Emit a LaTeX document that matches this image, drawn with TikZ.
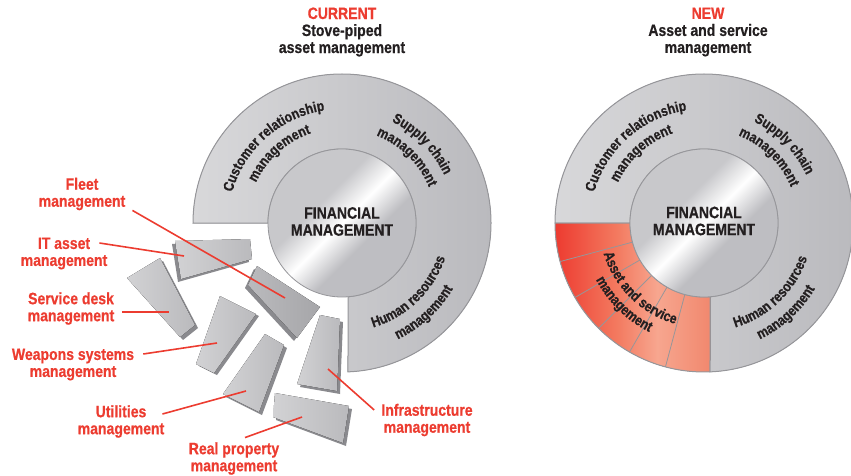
\documentclass[tikz,border=0pt]{standalone}
\usepackage{fontspec}
\setmainfont{Liberation Sans}[FakeStretch=0.85, BoldFeatures={FakeBold=0.6}]
\usetikzlibrary{calc,decorations.text}
\definecolor{leadred}{RGB}{236,60,48}
\definecolor{ink}{RGB}{35,31,32}
\definecolor{ringA}{RGB}{216,216,218}
\definecolor{ringB}{RGB}{232,232,234}
\definecolor{ringC}{RGB}{186,186,190}
\definecolor{rim}{RGB}{150,150,154}
\definecolor{metalA}{RGB}{200,200,203}
\definecolor{metalB}{RGB}{190,190,194}
\definecolor{pieceA}{RGB}{210,210,212}
\definecolor{pieceB}{RGB}{186,186,189}
\definecolor{pieceD}{RGB}{166,166,169}
\definecolor{pieceS}{RGB}{138,138,142}
\definecolor{redA}{RGB}{237,59,48}
\definecolor{redM}{RGB}{243,122,96}
\definecolor{redB}{RGB}{247,166,143}
\definecolor{redC}{RGB}{241,136,110}
\pgfdeclareverticalshading{metal}{100bp}{color(0bp)=(metalB); color(40bp)=(metalB); color(50bp)=(white); color(60bp)=(metalA); color(100bp)=(metalA)}
\pgfdeclarehorizontalshading{redfan}{100bp}{color(0bp)=(redA); color(25bp)=(redA); color(45bp)=(redM); color(58bp)=(redB); color(75bp)=(redC); color(100bp)=(redC)}
\def\ringfont{\fontsize{14.5}{15}\selectfont\bfseries}
\def\ringtext(#1)(#2:#3:#4)#5{\path[decorate,decoration={text along path,text align=center,text color=ink,text={|\ringfont|#5}}] ($(#1)+(#2:#4)$) arc (#2:#3:#4);}
\def\piece#1#2#3(#4)(#5)(#6)(#7){\fill[pieceS,xshift=#2,yshift=#3] (#4) -- (#5) -- (#6) -- (#7) -- cycle; \fill[#1] (#4) -- (#5) -- (#6) -- (#7) -- cycle;}

\begin{document}
\begin{tikzpicture}[x=1pt,y=1pt,
	lbl/.style={font={\fontsize{16.5}{17}\selectfont\bfseries}, text=leadred, align=center, inner sep=0pt},
	ttl/.style={font={\fontsize{16.5}{17}\selectfont\bfseries}, text=ink, align=center, inner sep=0pt},
	hubtext/.style={font={\fontsize{16.5}{17}\selectfont\bfseries}, text=ink, align=center, inner sep=0pt},
	leader/.style={draw=leadred, line width=1.6pt},
	ringshade/.style={left color=ringA, middle color=ringB, right color=ringC, draw=rim, line width=1pt},
	hub/.style={shading=metal, shading angle=45, draw=rim, line width=0.8pt},
	face/.style={left color=pieceA, right color=pieceB},
	darkface/.style={left color=pieceB, right color=pieceD}]
	%%%%% START %%%%%
	\useasboundingbox (0,0) rectangle (851,-476);
	\coordinate (cL) at (342,-223);
	\coordinate (cR) at (704,-223);
	
	% titles
	\node[ttl] (cur) at (342,-32) {\textcolor{leadred}{CURRENT}\\Stove-piped\\asset management};
	\node[ttl] (new) at (708,-32) {\textcolor{leadred}{NEW}\\Asset and service\\management};
	
	% left wheel
	\fill[ringshade] ($(cL)+(180:149)$) arc (180:-87.7:149) -- ($(cL)+(-85.3:74)$) arc (-85.3:180:74) -- cycle;
	\draw[hub] (cL) circle (74);
	\node[hubtext] (finL) at (342,-221.5) {FINANCIAL\\MANAGEMENT};
	\ringtext(cL)(186.5:76.5:114){Customer relationship}
	\ringtext(cL)(190:74:95){management}
	\ringtext(cL)(100:-11:113){Supply chain}
	\ringtext(cL)(100:-9:94){management}
	\ringtext(cL)(-100:8:109){Human resources}
	\ringtext(cL)(-100:5:129){management}
	
	% loose pieces
	\piece{face}{-3}{-3}(175,-241)(250,-239)(252,-259)(181,-279)
	\piece{face}{3}{-3}(127,-278)(160,-258)(195,-325)(180,-337)
	\piece{darkface}{-3}{-3}(257,-266)(320,-307)(297,-338)(248,-285)
	\piece{face}{3}{-2}(220,-296)(256,-314)(214,-373)(196,-364)
	\piece{face}{3}{-3}(320,-315)(340,-319)(337,-391)(297,-384)
	\piece{face}{3}{-3}(265,-334)(284,-345)(259,-412)(223,-394)
	\piece{face}{3}{-3}(275,-393)(349,-406)(343,-443)(273,-417)
	
	\coordinate (fleetP) at (285,-298);
	\coordinate (itP) at (184,-256);
	\coordinate (svcP) at (169,-312);
	\coordinate (weapP) at (217,-343);
	\coordinate (utilP) at (246,-391);
	\coordinate (realP) at (302,-417);
	\coordinate (infraP) at (328,-369);
	
	% labels
	\node[lbl] (fleet) at (82,-194) {Fleet\\management};
	\node[lbl] (it) at (64,-253.5) {IT asset\\management};
	\node[lbl] (svc) at (71,-308.5) {Service desk\\management};
	\node[lbl] (weap) at (73,-364.5) {Weapons systems\\management};
	\node[lbl] (util) at (121,-421.5) {Utilities\\management};
	\node[lbl] (real) at (234,-458.5) {Real property\\management};
	\node[lbl] (infra) at (427,-420) {Infrastructure\\management};
	
	\draw[leader] ([shift={(7,0)}]fleet.south east) -- (fleetP);
	\draw[leader] ([shift={(-8,10.5)}]it.east) -- (itP);
	\draw[leader] ([shift={(7.5,-3.5)}]svc.east) -- (svcP);
	\draw[leader] ([shift={(9,10.5)}]weap.east) -- (weapP);
	\draw[leader] ([shift={(-2,7.5)}]util.east) -- (utilP);
	\draw[leader] ([shift={(11,4.5)}]real.north) -- (realP);
	\draw[leader] ([shift={(-7,10)}]infra.west) -- (infraP);
	
	% right wheel
	\fill[ringshade] ($(cR)+(180:149)$) arc (180:-87.7:149) -- ($(cR)+(-85.3:74)$) arc (-85.3:180:74) -- cycle;
	\fill[shading=redfan, draw=rim, line width=1pt] ($(cR)+(180:149)$) arc (180:272.3:149) -- ($(cR)+(274.7:74)$) arc (274.7:180:74) -- cycle;
	\foreach \a in {195,210,...,255}
		\draw[rim, line width=0.8pt] ($(cR)+(\a:74)$) -- ($(cR)+(\a:149)$);
	\draw[hub] (cR) circle (74);
	\node[hubtext] (finR) at (704,-221) {FINANCIAL\\MANAGEMENT};
	\ringtext(cR)(186.5:76.5:114){Customer relationship}
	\ringtext(cR)(190:74:95){management}
	\ringtext(cR)(100:-11:113){Supply chain}
	\ringtext(cR)(100:-9:94){management}
	\ringtext(cR)(-100:8:109){Human resources}
	\ringtext(cR)(-100:5:129){management}
	\ringtext(cR)(170:281:105){Asset and service}
	\ringtext(cR)(170:281:122){management}
	
	%%%%% END %%%%%
\end{tikzpicture}
\end{document}
